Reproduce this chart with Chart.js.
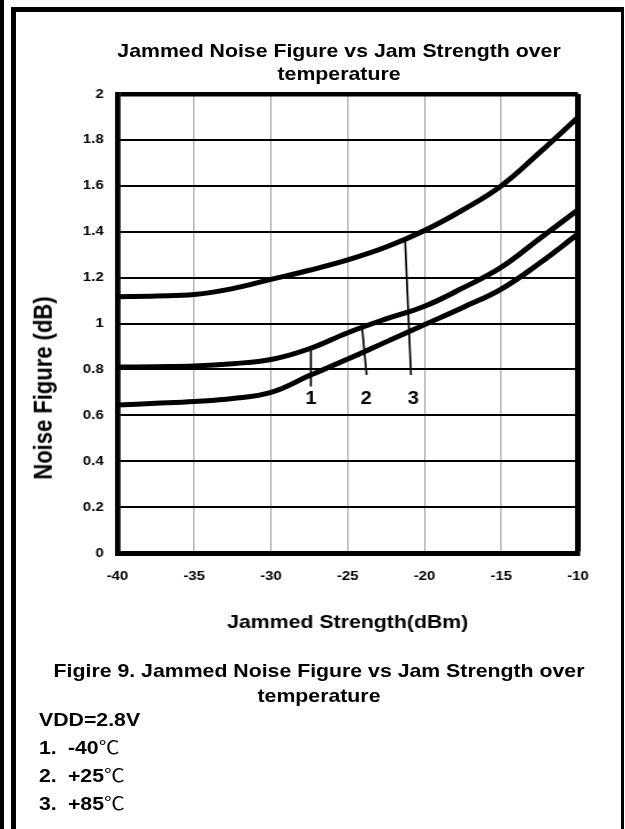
<!DOCTYPE html>
<html>
<head>
<meta charset="utf-8">
<script src="https://cdn.jsdelivr.net/npm/chart.js@4.4.1/dist/chart.umd.min.js"></script>
<style>
  html, body { margin: 0; padding: 0; background: #fff; }
  body { width: 625px; height: 829px; position: relative; overflow: hidden; }
  .edge { position: absolute; left: 0; top: 0; width: 4px; height: 829px; background: #000; }
  .frame { position: absolute; left: 11px; top: 7px; width: 613px; height: 900px; box-sizing: border-box;
           border-left: 5px solid #000; border-top: 5px solid #000; border-right: 3px solid #000; }
  /* the reference is stretched sideways, so everything is drawn narrow and scaled */
  .stage { position: absolute; left: 0; top: 0; width: 543px; height: 829px;
           transform: scaleX(1.15); transform-origin: 0 0; }
  #chart { position: absolute; left: 0; top: 0; }
  .txt { font-family: "Liberation Sans", Arial, sans-serif; font-weight: bold; font-size: 18.5px; color: #000; }
  .title { position: absolute; left: 0; width: 589.6px; top: 38.5px; line-height: 23px; text-align: center; }
  .caption { position: absolute; left: 0; width: 554.8px; top: 657.5px; line-height: 25px; text-align: center; }
  .notes { position: absolute; left: 33.9px; top: 705.5px; line-height: 27px; white-space: nowrap; }
  .num { display: inline-block; width: 25.2px; }
  .deg { font-family: "Noto Sans CJK SC", sans-serif; font-weight: normal; font-size: 18px; }
  .ytitle { position: absolute; left: 38.3px; top: 388.3px; font-size: 22px; line-height: 1;
            white-space: nowrap; transform: translate(-50%, -50%) rotate(-90deg); }
</style>
</head>
<body>
<div class="edge"></div>
<div class="frame"></div>
<div class="stage">
  <canvas id="chart" width="543" height="645" style="width:543px;height:645px"></canvas>
  <div class="txt title">Jammed Noise Figure vs Jam Strength over<br>temperature</div>
  <div class="txt ytitle">Noise Figure (dB)</div>
  <div class="txt caption">Figire 9. Jammed Noise Figure vs Jam Strength over<br>temperature</div>
  <div class="txt notes">
    VDD=2.8V<br>
    <span class="num">1.</span>-40<span class="deg">℃</span><br>
    <span class="num">2.</span>+25<span class="deg">℃</span><br>
    <span class="num">3.</span>+85<span class="deg">℃</span>
  </div>
</div>
<script>
// values
const jamDbm = [-40, -37.5, -35, -32.5, -30, -27.5, -25, -22.5, -20, -17.5, -15, -12.5, -10];
const nfMinus40 = [0.645, 0.652, 0.66, 0.673, 0.7, 0.773, 0.845, 0.92, 0.995, 1.07, 1.15, 1.263, 1.39];
const nfPlus25  = [0.81, 0.812, 0.815, 0.825, 0.843, 0.89, 0.96, 1.02, 1.075, 1.155, 1.245, 1.37, 1.495];
const nfPlus85  = [1.117, 1.12, 1.126, 1.152, 1.192, 1.232, 1.277, 1.333, 1.405, 1.495, 1.6, 1.745, 1.898];

const xTicks = [-40, -35, -30, -25, -20, -15, -10];
const xTickLabels = ['-40', '-35', '-30', '-25', '-20', '-15', '-10'];
const yTicks = [0, 0.2, 0.4, 0.6, 0.8, 1, 1.2, 1.4, 1.6, 1.8, 2];
const yTickLabels = ['0', '0.2', '0.4', '0.6', '0.8', '1', '1.2', '1.4', '1.6', '1.8', '2'];

// curve markers "1", "2", "3" and their leader lines
const markerNames = ['1', '2', '3'];
const markerX = [-27.39, -23.81, -20.73];
const markerY = [0.671, 0.671, 0.671];
const leaderFromX = [-27.4, -24.09, -21.27];
const leaderFromY = [0.892, 0.998, 1.371];
const leaderToX = [-27.4, -23.77, -20.88];
const leaderToY = [0.725, 0.776, 0.776];

const FONT = '"Liberation Sans", Arial, sans-serif';
Chart.defaults.font.family = FONT;
Chart.defaults.font.weight = 'bold';
Chart.defaults.color = '#000';

function curve(values) {
  return {
    data: jamDbm.map((x, i) => ({ x: x, y: values[i] })),
    borderColor: '#000',
    borderWidth: 5,
    pointRadius: 0,
    tension: 0.4,
    fill: false
  };
}

const leaders = markerNames.map((n, i) => ({
  data: [{ x: leaderFromX[i], y: leaderFromY[i] }, { x: leaderToX[i], y: leaderToY[i] }],
  borderColor: '#000',
  borderWidth: 1.7,
  pointRadius: 0,
  tension: 0
}));

const markerLabels = {
  id: 'markerLabels',
  afterDatasetsDraw(chart) {
    const { ctx, scales: { x, y } } = chart;
    ctx.save();
    ctx.font = 'bold 17.5px ' + FONT;
    ctx.fillStyle = '#000';
    ctx.textAlign = 'center';
    ctx.textBaseline = 'middle';
    markerNames.forEach((n, i) => {
      ctx.fillText(n, x.getPixelForValue(markerX[i]), y.getPixelForValue(markerY[i]));
    });
    ctx.restore();
  }
};

const edgeX = v => v === -40 || v === -10;

new Chart(document.getElementById('chart'), {
  type: 'line',
  data: { datasets: [curve(nfMinus40), curve(nfPlus25), curve(nfPlus85)].concat(leaders) },
  plugins: [markerLabels],
  options: {
    responsive: false,
    devicePixelRatio: 1,
    animation: false,
    layout: { padding: { left: 0, right: 40.4, top: 94, bottom: 0 } },
    plugins: {
      legend: { display: false },
      tooltip: { enabled: false },
      title: { display: false }
    },
    scales: {
      x: {
        type: 'linear',
        min: -40,
        max: -10,
        afterBuildTicks: s => { s.ticks = xTicks.map(v => ({ value: v })); },
        afterFit: s => { s.height = 92; },
        ticks: {
          autoSkip: false,
          maxRotation: 0,
          padding: 16,
          font: { size: 13, weight: 'bold' },
          callback: (v, i) => xTickLabels[i]
        },
        grid: {
          drawTicks: false,
          color: c => (c.tick && edgeX(c.tick.value)) ? '#000' : '#9a9a9a',
          lineWidth: c => (c.tick && c.tick.value === -10) ? 5 : (c.tick && c.tick.value === -40 ? 4.5 : 1)
        },
        border: { color: '#000', width: 5 },
        title: {
          display: true,
          text: 'Jammed Strength(dBm)',
          font: { size: 18.5, weight: 'bold' },
          padding: { top: 0, bottom: 10.9 }
        }
      },
      y: {
        type: 'linear',
        min: 0,
        max: 2,
        afterBuildTicks: s => { s.ticks = yTicks.map(v => ({ value: v })); },
        afterFit: s => { s.width = 102.17; },
        ticks: {
          padding: 12,
          font: { size: 13, weight: 'bold' },
          callback: (v, i) => yTickLabels[i]
        },
        grid: {
          drawTicks: false,
          color: '#000',
          lineWidth: c => (c.tick && c.tick.value === 2) ? 4.5 : 2
        },
        border: { color: '#000', width: 4.5 }
      }
    }
  }
});
</script>
</body>
</html>
